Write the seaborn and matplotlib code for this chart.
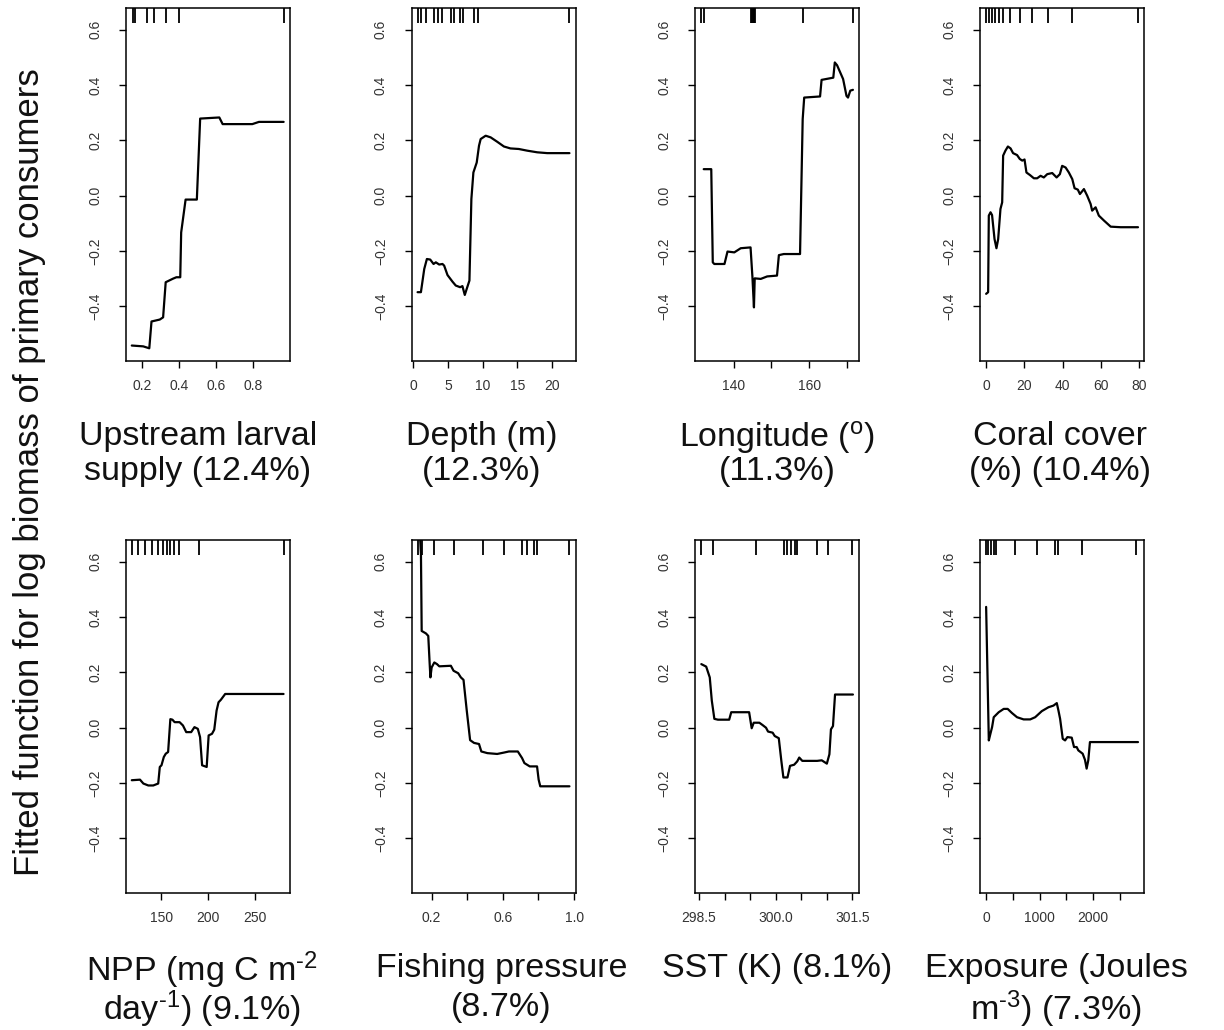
import matplotlib
matplotlib.use("Agg")
import matplotlib.pyplot as plt
import seaborn as sns
import numpy as np

# ---- Partial-dependence curves (x, fitted value) for each predictor ----
larval_x = [0.143, 0.205, 0.238, 0.250, 0.295, 0.313, 0.327, 0.367, 0.385, 0.406, 0.411, 0.435,
            0.496, 0.514, 0.618, 0.636, 0.797, 0.833, 0.967]
larval_y = [-0.542, -0.545, -0.552, -0.455, -0.448, -0.440, -0.313, -0.300, -0.295, -0.295, -0.133,
            -0.014, -0.014, 0.279, 0.283, 0.259, 0.259, 0.267, 0.267]
larval_rug = [0.148, 0.161, 0.224, 0.263, 0.327, 0.399, 0.967]

depth_x = [0.62, 1.10, 1.58, 1.96, 2.44, 2.92, 3.25, 3.73, 4.21, 4.45, 4.93, 5.65, 6.12, 6.75,
           7.08, 7.42, 7.70, 8.09, 8.37, 8.66, 9.14, 9.47, 9.71, 10.43, 11.15, 12.1, 13.06, 14.0,
           15.2, 16.4, 17.85, 19.3, 22.5]
depth_y = [-0.349, -0.349, -0.265, -0.229, -0.231, -0.247, -0.241, -0.249, -0.247, -0.253, -0.287,
           -0.311, -0.325, -0.331, -0.327, -0.359, -0.337, -0.307, -0.012, 0.084, 0.120, 0.181,
           0.205, 0.217, 0.211, 0.195, 0.178, 0.171, 0.169, 0.163, 0.157, 0.154, 0.154]
depth_rug = [0.63, 1.1, 1.8, 3.0, 3.5, 4.2, 5.4, 5.9, 6.7, 7.2, 8.8, 9.3, 22.5]

lon_x = [132.1, 134.1, 134.5, 134.9, 137.6, 138.4, 140.2, 141.9, 144.5, 145.0, 145.4, 145.6,
         147.2, 148.9, 151.5, 152.0, 153.3, 157.6, 158.3, 158.7, 162.9, 163.3, 166.4, 166.8,
         167.4, 169.0, 169.9, 170.3, 170.9, 171.6]
lon_y = [0.096, 0.096, -0.241, -0.247, -0.247, -0.202, -0.205, -0.190, -0.187, -0.295, -0.404,
         -0.299, -0.301, -0.292, -0.289, -0.215, -0.211, -0.211, 0.277, 0.355, 0.359, 0.419,
         0.427, 0.482, 0.472, 0.422, 0.361, 0.355, 0.380, 0.383]
lon_rug = [131.4, 132.3, 144.6, 144.9, 145.1, 145.3, 145.5, 145.7, 158.3, 171.6]

coral_x = [0.0, 1.05, 1.4, 2.3, 3.1, 4.4, 5.4, 6.3, 7.5, 8.4, 8.9, 10.1, 11.4, 12.8, 14.1, 16.2,
           17.6, 18.9, 20.1, 21.1, 22.9, 25.0, 26.7, 28.5, 30.2, 32.0, 34.6, 36.9, 38.6, 39.8,
           41.6, 43.3, 45.1, 46.3, 48.0, 49.1, 51.2, 52.9, 54.7, 55.5, 57.3, 59.0, 61.7, 65.2,
           70.4, 79.5]
coral_y = [-0.355, -0.349, -0.072, -0.060, -0.070, -0.157, -0.190, -0.157, -0.048, -0.024, 0.145,
           0.163, 0.178, 0.171, 0.154, 0.147, 0.133, 0.127, 0.131, 0.084, 0.075, 0.063, 0.063,
           0.072, 0.066, 0.078, 0.082, 0.066, 0.078, 0.108, 0.102, 0.084, 0.060, 0.027, 0.022,
           0.006, 0.024, 0.000, -0.030, -0.054, -0.042, -0.072, -0.090, -0.112, -0.114, -0.114]
coral_rug = [0.0, 1.4, 3.1, 4.9, 6.6, 8.9, 12.4, 17.6, 24.1, 32.3, 45.1, 79.5]

npp_x = [118.2, 127.0, 130.6, 135.9, 141.2, 146.5, 148.2, 150.0, 152.5, 154.6, 157.1, 159.5,
         161.7, 164.1, 169.4, 173.0, 176.5, 181.8, 185.3, 188.9, 191.3, 193.5, 198.4, 200.5,
         204.1, 206.5, 209.0, 211.1, 213.6, 218.2, 233.0, 280.7]
npp_y = [-0.190, -0.188, -0.202, -0.209, -0.209, -0.202, -0.142, -0.136, -0.106, -0.094, -0.088,
         0.031, 0.029, 0.020, 0.020, 0.008, -0.016, -0.016, 0.002, -0.004, -0.034, -0.136,
         -0.142, -0.028, -0.022, -0.007, 0.062, 0.092, 0.101, 0.122, 0.122, 0.122]
npp_rug = [118.2, 125.2, 132.3, 139.4, 146.4, 151.7, 156.0, 159.5, 163.0, 168.7, 190.6, 280.8]

fish_x = [0.135, 0.140, 0.144, 0.168, 0.181, 0.189, 0.193, 0.200, 0.215, 0.230, 0.243, 0.308,
          0.323, 0.349, 0.364, 0.379, 0.397, 0.416, 0.438, 0.466, 0.479, 0.513, 0.568, 0.606,
          0.634, 0.684, 0.708, 0.721, 0.751, 0.792, 0.801, 0.810, 0.903, 0.974]
fish_y = [0.690, 0.626, 0.350, 0.341, 0.332, 0.230, 0.182, 0.218, 0.236, 0.230, 0.222, 0.224,
          0.206, 0.197, 0.182, 0.173, 0.063, -0.045, -0.055, -0.059, -0.086, -0.092, -0.095,
          -0.090, -0.086, -0.086, -0.110, -0.128, -0.140, -0.140, -0.188, -0.212, -0.212, -0.212]
fish_rug = [0.121, 0.144, 0.215, 0.323, 0.486, 0.607, 0.710, 0.738, 0.776, 0.794, 0.972]

sst_x = [298.545, 298.64, 298.71, 298.75, 298.80, 298.87, 299.09, 299.13, 299.48, 299.53,
         299.57, 299.68, 299.74, 299.81, 299.85, 299.94, 299.98, 300.06, 300.11, 300.15,
         300.23, 300.28, 300.36, 300.42, 300.46, 300.52, 300.81, 300.90, 301.00, 301.05,
         301.08, 301.12, 301.16, 301.51]
sst_y = [0.230, 0.221, 0.182, 0.098, 0.032, 0.029, 0.029, 0.056, 0.056, -0.002, 0.018, 0.018,
         0.010, 0.000, -0.014, -0.018, -0.030, -0.038, -0.120, -0.180, -0.180, -0.138, -0.134,
         -0.122, -0.108, -0.120, -0.120, -0.118, -0.130, -0.096, -0.006, 0.006, 0.120, 0.120]
sst_rug = [298.54, 298.77, 299.61, 300.16, 300.22, 300.29, 300.37, 300.42, 300.81, 301.03, 301.5]

expo_x = [0, 50, 80, 111, 142, 235, 328, 402, 483, 576, 700, 823, 916, 1040, 1164, 1257, 1319,
          1350, 1381, 1430, 1474, 1517, 1598, 1641, 1690, 1721, 1802, 1845, 1876, 1907, 1938,
          2000, 2835]
expo_y = [0.437, -0.046, -0.022, 0.002, 0.038, 0.056, 0.068, 0.068, 0.053, 0.038, 0.030, 0.030,
          0.038, 0.060, 0.074, 0.080, 0.089, 0.062, 0.032, -0.040, -0.046, -0.034, -0.036,
          -0.070, -0.070, -0.082, -0.094, -0.116, -0.148, -0.118, -0.052, -0.052, -0.052]
expo_rug = [0, 37, 93, 142, 191, 545, 948, 1288, 1350, 1784, 2806]

# ---- Axis labels and ticks ----
titles = [
    ["Upstream larval", "supply (12.4%)"],
    ["Depth (m)", "(12.3%)"],
    ["Longitude ($^{o}$)", "(11.3%)"],
    ["Coral cover", "(%) (10.4%)"],
    ["NPP (mg C m$^{\u2010 2}$", "day$^{\u2010 1}$) (9.1%)"],
    ["Fishing pressure", "(8.7%)"],
    ["SST (K) (8.1%)"],
    ["Exposure (Joules", "m$^{\u2010 3}$) (7.3%)"],
]
xtick_pos = [
    [0.2, 0.4, 0.6, 0.8],
    [0, 5, 10, 15, 20],
    [140, 150, 160, 170],
    [0, 20, 40, 60, 80],
    [150, 200, 250],
    [0.2, 0.4, 0.6, 0.8, 1.0],
    [298.5, 299.0, 299.5, 300.0, 300.5, 301.0, 301.5],
    [0, 500, 1000, 1500, 2000, 2500],
]
xtick_lab = [
    ["0.2", "0.4", "0.6", "0.8"],
    ["0", "5", "10", "15", "20"],
    ["140", "", "160", ""],
    ["0", "20", "40", "60", "80"],
    ["150", "200", "250"],
    ["0.2", "", "0.6", "", "1.0"],
    ["298.5", "", "", "300.0", "", "", "301.5"],
    ["0", "", "1000", "", "2000", ""],
]
ytick_pos = [-0.4, -0.2, 0.0, 0.2, 0.4, 0.6]
ytick_lab = ["\u22120.4", "\u22120.2", "0.0", "0.2", "0.4", "0.6"]
ylabel = "Fitted function for log biomass of primary consumers"

curves = [(larval_x, larval_y, larval_rug), (depth_x, depth_y, depth_rug),
          (lon_x, lon_y, lon_rug), (coral_x, coral_y, coral_rug),
          (npp_x, npp_y, npp_rug), (fish_x, fish_y, fish_rug),
          (sst_x, sst_y, sst_rug), (expo_x, expo_y, expo_rug)]

sns.set_theme(style="ticks")
plt.rcParams["font.family"] = ["Liberation Sans", "DejaVu Sans"]
plt.rcParams["mathtext.fontset"] = "custom"
plt.rcParams["mathtext.rm"] = "Liberation Sans"
plt.rcParams["mathtext.it"] = "Liberation Sans:italic"
plt.rcParams["mathtext.default"] = "regular"

W, H = 1224, 1030
fig = plt.figure(figsize=(W / 100, H / 100), dpi=100)

lefts = [0.1027, 0.3362, 0.5678, 0.8007]
bottoms = [0.6495, 0.133]
width, height = 0.1340, 0.3430
# pixel rows of the two label lines under each row of panels
line_rows = [(433, 468), (965, 1004)]
title_dx = [-10, -12, 0, -2, -6, 8, 0, -6]

for i, (xs, ys, rug) in enumerate(curves):
    r, c = divmod(i, 4)
    ax = fig.add_axes([lefts[c], bottoms[r], width, height])
    sns.lineplot(x=xs, y=ys, ax=ax, sort=False, estimator=None, color="black", lw=1.6)

    # data range padded by 4% on each side
    lo = min(min(xs), min(rug))
    hi = max(max(xs), max(rug))
    pad = 0.04 * (hi - lo)
    ax.set_xlim(lo - pad, hi + pad)
    ax.set_ylim(-0.598, 0.68)

    # deciles of the predictor as a rug along the top edge
    ax.vlines(rug, 1 - 0.042, 1, transform=ax.get_xaxis_transform(), color="black", lw=1.3)

    ax.set_xticks(xtick_pos[i])
    ax.set_xticklabels(xtick_lab[i])
    ax.set_yticks(ytick_pos)
    ax.set_yticklabels(ytick_lab, rotation=90, va="center")
    ax.tick_params(axis="both", direction="out", length=5, width=1.0, colors="black",
                   labelsize=10, labelcolor="#333333")
    ax.tick_params(axis="x", pad=8)
    ax.tick_params(axis="y", pad=12)
    for s in ax.spines.values():
        s.set_visible(True)
        s.set_linewidth(1.1)
        s.set_color("black")
    ax.set_xlabel("")
    ax.set_ylabel("")

    xc = lefts[c] + width / 2 + title_dx[i] / W
    for k, line in enumerate(titles[i]):
        fig.text(xc, 1 - line_rows[r][k] / H, line, ha="center", va="center_baseline",
                 fontsize=24.5, color="#111111")

fig.text(0.0245, 0.542, ylabel, rotation=90, ha="center", va="center", fontsize=25,
         color="#111111")

fig.savefig("out.png", dpi=100, facecolor="white")
